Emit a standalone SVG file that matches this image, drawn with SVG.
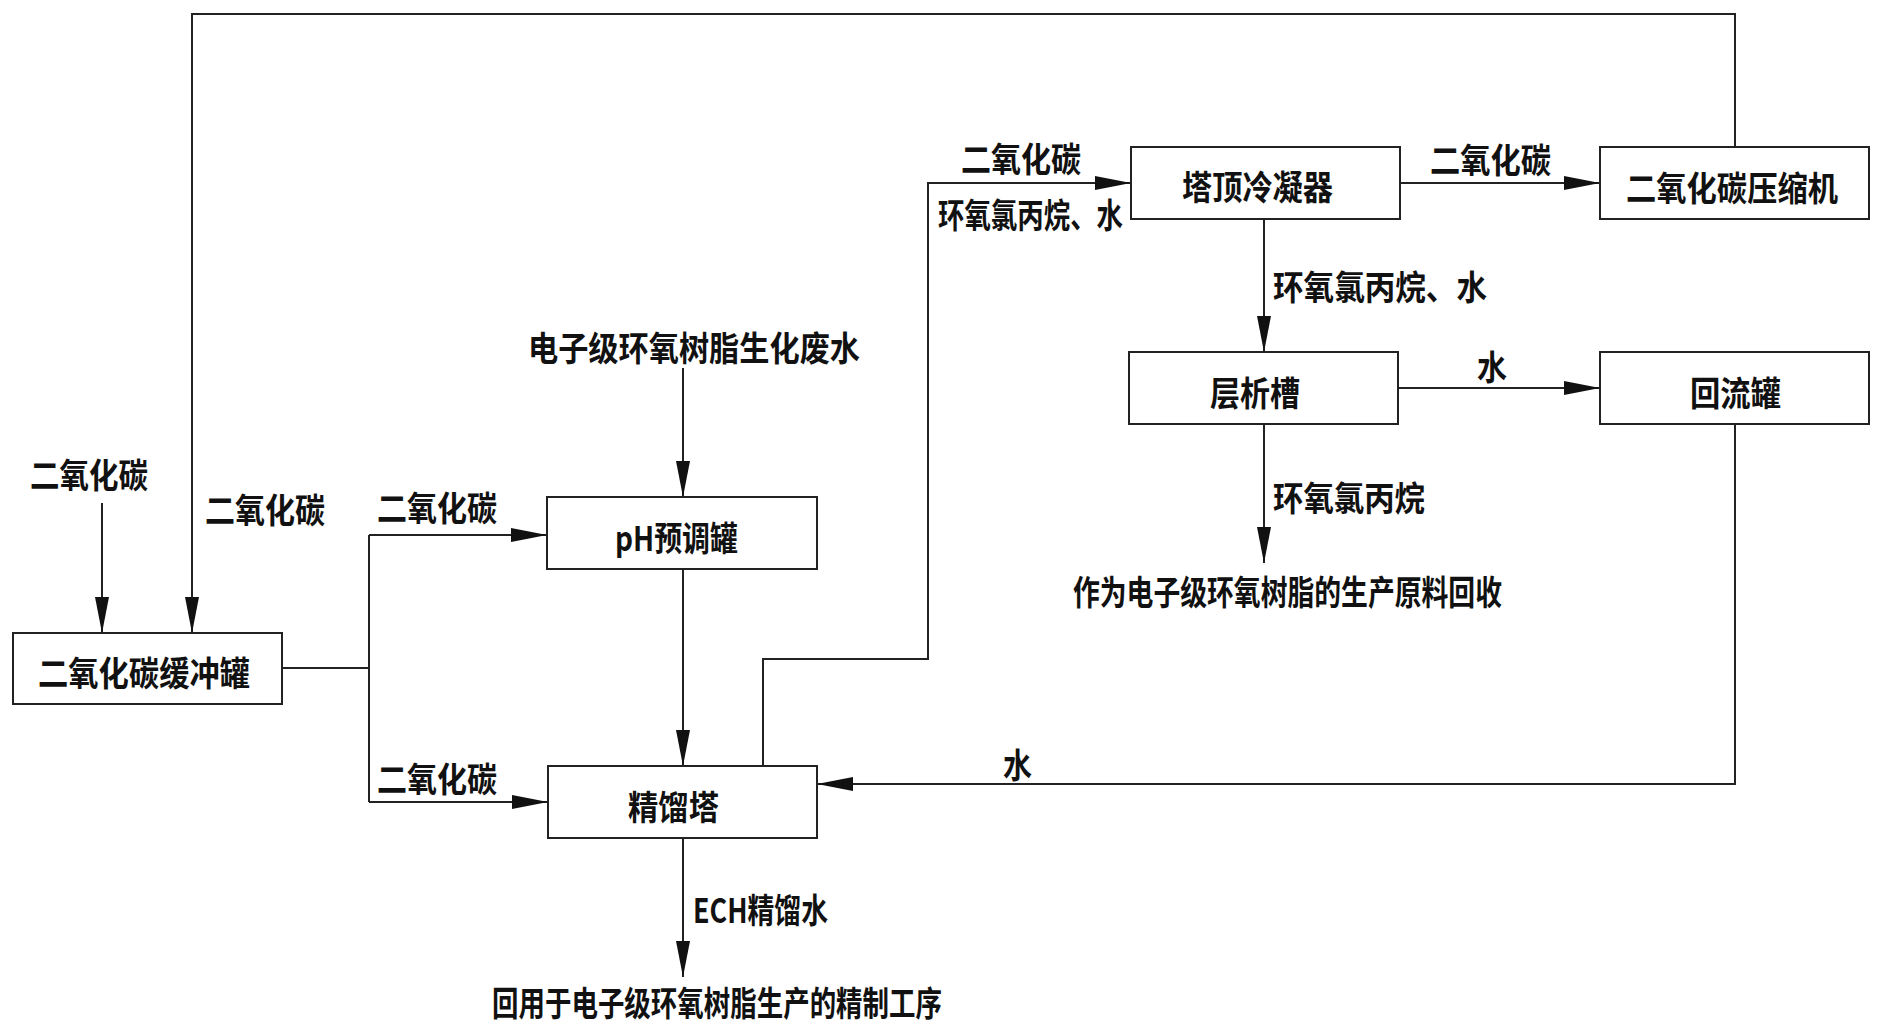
<svg xmlns="http://www.w3.org/2000/svg" width="1883" height="1033" viewBox="0 0 1883 1033">
<style>
.box{fill:#fff;stroke:#222;stroke-width:2}
.ln{fill:none;stroke:#222;stroke-width:2}
.t{font-family:"Noto Sans CJK SC","Liberation Serif",sans-serif;font-weight:bold;font-size:34px;fill:#111}
</style>
<defs>
<marker id="ar" markerUnits="userSpaceOnUse" markerWidth="38" markerHeight="16" refX="36" refY="7" orient="auto">
<path d="M0,0 L36,7 L0,14 Z" fill="#111"/>
</marker>
</defs>
<rect width="1883" height="1033" fill="#fff"/>
<g id="connectors">
<path class="ln" d="M102,503 V633" marker-end="url(#ar)"/>
<path class="ln" d="M1735,147 V14 H192 V633" marker-end="url(#ar)"/>
<path class="ln" d="M282,668 H369"/>
<path class="ln" d="M369,535 V802"/>
<path class="ln" d="M369,535 H547" marker-end="url(#ar)"/>
<path class="ln" d="M369,802 H548" marker-end="url(#ar)"/>
<path class="ln" d="M683,368 V497" marker-end="url(#ar)"/>
<path class="ln" d="M683,569 V766" marker-end="url(#ar)"/>
<path class="ln" d="M763,766 V659 H928 V183 H1131" marker-end="url(#ar)"/>
<path class="ln" d="M1400,183 H1600" marker-end="url(#ar)"/>
<path class="ln" d="M1264,219 V352" marker-end="url(#ar)"/>
<path class="ln" d="M1398,388 H1600" marker-end="url(#ar)"/>
<path class="ln" d="M1264,424 V563" marker-end="url(#ar)"/>
<path class="ln" d="M1735,424 V784 H817" marker-end="url(#ar)"/>
<path class="ln" d="M683,838 V977" marker-end="url(#ar)"/>
</g>
<g id="labels">
<text class="t" x="30" y="488" textLength="118" lengthAdjust="spacingAndGlyphs">二氧化碳</text>
<text class="t" x="205" y="523" textLength="120" lengthAdjust="spacingAndGlyphs">二氧化碳</text>
<text class="t" x="377" y="521" textLength="120" lengthAdjust="spacingAndGlyphs">二氧化碳</text>
<text class="t" x="377" y="792" textLength="120" lengthAdjust="spacingAndGlyphs">二氧化碳</text>
<text class="t" x="528" y="361" textLength="332" lengthAdjust="spacingAndGlyphs">电子级环氧树脂生化废水</text>
<text class="t" x="693" y="923" textLength="135" lengthAdjust="spacingAndGlyphs">ECH精馏水</text>
<text class="t" x="492" y="1016" textLength="450" lengthAdjust="spacingAndGlyphs">回用于电子级环氧树脂生产的精制工序</text>
<text class="t" x="961" y="172" textLength="120" lengthAdjust="spacingAndGlyphs">二氧化碳</text>
<text class="t" x="938" y="228" textLength="185" lengthAdjust="spacingAndGlyphs">环氧氯丙烷、水</text>
<text class="t" x="1430" y="173" textLength="121" lengthAdjust="spacingAndGlyphs">二氧化碳</text>
<text class="t" x="1273" y="300" textLength="214" lengthAdjust="spacingAndGlyphs">环氧氯丙烷、水</text>
<text class="t" x="1477" y="380" textLength="30" lengthAdjust="spacingAndGlyphs">水</text>
<text class="t" x="1273" y="511" textLength="152" lengthAdjust="spacingAndGlyphs">环氧氯丙烷</text>
<text class="t" x="1073" y="605" textLength="429" lengthAdjust="spacingAndGlyphs">作为电子级环氧树脂的生产原料回收</text>
<text class="t" x="1003" y="778" textLength="29" lengthAdjust="spacingAndGlyphs">水</text>
</g>
<g id="buffer">
<rect class="box" x="13" y="633" width="269" height="71"/>
<text class="t" x="38" y="686" textLength="212" lengthAdjust="spacingAndGlyphs">二氧化碳缓冲罐</text>
</g>
<g id="ph">
<rect class="box" x="547" y="497" width="270" height="72"/>
<text class="t" x="615" y="551" textLength="123" lengthAdjust="spacingAndGlyphs">pH预调罐</text>
</g>
<g id="column">
<rect class="box" x="548" y="766" width="269" height="72"/>
<text class="t" x="628" y="820" textLength="91" lengthAdjust="spacingAndGlyphs">精馏塔</text>
</g>
<g id="condenser">
<rect class="box" x="1131" y="147" width="269" height="72"/>
<text class="t" x="1182" y="200" textLength="151" lengthAdjust="spacingAndGlyphs">塔顶冷凝器</text>
</g>
<g id="compressor">
<rect class="box" x="1600" y="147" width="269" height="72"/>
<text class="t" x="1626" y="201" textLength="212" lengthAdjust="spacingAndGlyphs">二氧化碳压缩机</text>
</g>
<g id="separator">
<rect class="box" x="1129" y="352" width="269" height="72"/>
<text class="t" x="1210" y="406" textLength="90" lengthAdjust="spacingAndGlyphs">层析槽</text>
</g>
<g id="reflux">
<rect class="box" x="1600" y="352" width="269" height="72"/>
<text class="t" x="1690" y="406" textLength="91" lengthAdjust="spacingAndGlyphs">回流罐</text>
</g>
</svg>
